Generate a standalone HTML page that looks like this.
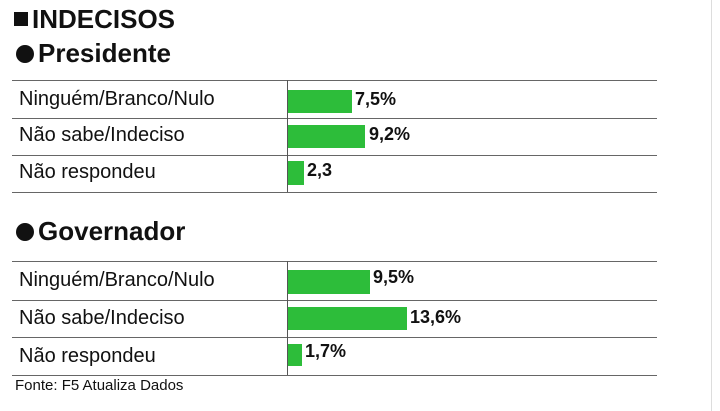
<!DOCTYPE html>
<html><head><meta charset="utf-8"><style>
body{margin:0;width:720px;height:411px;background:#fff;position:relative;overflow:hidden;font-family:"Liberation Sans",sans-serif;color:#111}
div,span{position:absolute;white-space:nowrap}
.h{left:12px;width:645px;height:1px;background:#666}
.v{left:287px;width:1px;background:#555}
.lbl{left:19px;font-size:20px}
.bar{left:288px;background:#2dbd3a}
.val{font-size:18px;font-weight:bold}
.t{font-weight:bold;font-size:26px}
.dot{width:18px;height:18px;border-radius:50%;background:#111}
</style></head><body>
<div style="left:711px;top:0;width:1px;height:411px;background:#ddd"></div>
<div style="left:14px;top:12px;width:14px;height:14px;background:#111"></div>
<div class="t" style="left:32px;top:4px">INDECISOS</div>
<div class="dot" style="left:16px;top:45px"></div>
<div class="t" style="left:38px;top:38px">Presidente</div>
<div class="h" style="top:80px"></div><div class="h" style="top:118px"></div><div class="h" style="top:155px"></div><div class="h" style="top:192px"></div>
<div class="v" style="top:80px;height:112px"></div>
<div class="lbl" style="top:88px">Ninguém/Branco/Nulo</div>
<div class="lbl" style="top:124px">Não sabe/Indeciso</div>
<div class="lbl" style="top:161px">Não respondeu</div>
<div class="bar" style="top:90px;width:64px;height:23px"></div><div class="val" style="left:355px;top:89px">7,5%</div>
<div class="bar" style="top:125px;width:77px;height:23px"></div><div class="val" style="left:369px;top:124px">9,2%</div>
<div class="bar" style="top:161px;width:16px;height:24px"></div><div class="val" style="left:307px;top:160px">2,3</div>
<div class="dot" style="left:16px;top:223px"></div>
<div class="t" style="left:38px;top:216px">Governador</div>
<div class="h" style="top:261px"></div><div class="h" style="top:300px"></div><div class="h" style="top:337px"></div><div class="h" style="top:375px"></div>
<div class="v" style="top:261px;height:114px"></div>
<div class="lbl" style="top:269px">Ninguém/Branco/Nulo</div>
<div class="lbl" style="top:307px">Não sabe/Indeciso</div>
<div class="lbl" style="top:345px">Não respondeu</div>
<div class="bar" style="top:270px;width:82px;height:24px"></div><div class="val" style="left:373px;top:267px">9,5%</div>
<div class="bar" style="top:307px;width:119px;height:23px"></div><div class="val" style="left:410px;top:307px">13,6%</div>
<div class="bar" style="top:344px;width:14px;height:22px"></div><div class="val" style="left:305px;top:341px">1,7%</div>
<div style="left:15px;top:377px;font-size:15px">Fonte: F5 Atualiza Dados</div>
</body></html>
